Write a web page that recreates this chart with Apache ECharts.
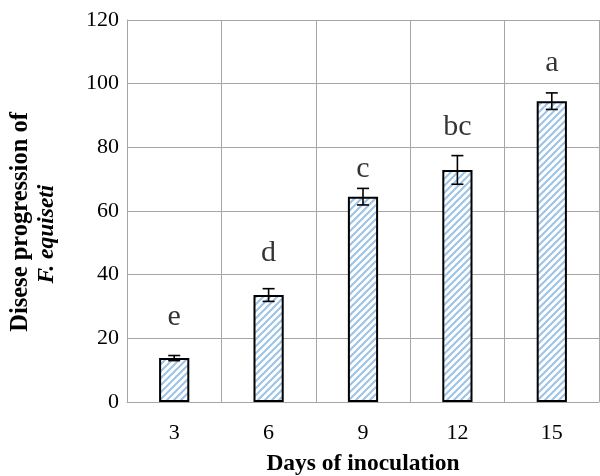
<!DOCTYPE html>
<html>
<head>
<meta charset="utf-8">
<script src="https://cdn.jsdelivr.net/npm/echarts@6/dist/echarts.min.js"></script>
<style>html,body{margin:0;padding:0;background:#fff}#c{width:600px;height:476px}</style>
</head>
<body>
<div id="c"></div>
<script>
var categories = ['3', '6', '9', '12', '15'];
var means = [13.8, 33.6, 64.5, 72.9, 94.5];
var errors = [0.8, 2.0, 2.6, 4.5, 2.6];
var letters = ['e', 'd', 'c', 'bc', 'a'];
var letterBaseline = [24.2, 44.3, 70.7, 83.9, 104.0];

var S = 7;
var pc = document.createElement('canvas');
pc.width = S; pc.height = S;
var g = pc.getContext('2d');
g.fillStyle = '#ffffff'; g.fillRect(0, 0, S, S);
g.strokeStyle = '#9DC3E6'; g.lineWidth = 2;
g.beginPath();
g.moveTo(-1, S + 1); g.lineTo(S + 1, -1);
g.moveTo(-1, 1); g.lineTo(1, -1);
g.moveTo(S - 1, S + 1); g.lineTo(S + 1, S - 1);
g.stroke();

var chart = echarts.init(document.getElementById('c'), null, {renderer: 'canvas'});
var serif = '"Liberation Serif", "Times New Roman", serif';
chart.setOption({
  animation: false,
  grid: {left: 127, right: 1, top: 20, bottom: 74, containLabel: false, outerBoundsMode: 'none'},
  xAxis: {
    type: 'category', data: categories,
    axisLine: {show: true, lineStyle: {color: '#A6A6A6', width: 1}},
    axisTick: {show: false},
    splitLine: {show: true, lineStyle: {color: '#A6A6A6', width: 1}},
    axisLabel: {fontFamily: serif, fontSize: 22, color: '#000', margin: 20},
    name: 'Days of inoculation', nameLocation: 'middle', nameGap: 50,
    nameTextStyle: {fontFamily: serif, fontSize: 23.5, fontWeight: 'bold', color: '#000'}
  },
  yAxis: {
    type: 'value', min: 0, max: 120, interval: 20,
    axisLine: {show: true, lineStyle: {color: '#A6A6A6', width: 1}},
    axisTick: {show: false},
    splitLine: {show: true, lineStyle: {color: '#A6A6A6', width: 1}},
    axisLabel: {fontFamily: serif, fontSize: 22, color: '#000', margin: 8},
    name: '{a|Disese progression of}\n{b|F. equiseti}',
    nameLocation: 'middle', nameRotate: 90, nameGap: 67,
    nameTextStyle: {
      rich: {
        a: {fontFamily: serif, fontSize: 24.5, fontWeight: 'bold', color: '#000', lineHeight: 26, padding: [0, 22, 0, 0]},
        b: {fontFamily: serif, fontSize: 23.5, fontWeight: 'bold', fontStyle: 'italic', color: '#000', lineHeight: 26, padding: [0, 46, 0, 0]}
      }
    }
  },
  series: [
    {
      type: 'bar', data: means, barWidth: '32%',
      itemStyle: {color: {image: pc, repeat: 'repeat'}, borderColor: '#000', borderWidth: 2}
    },
    {
      type: 'custom',
      data: means.map(function (m, i) { return [i, m - errors[i], m + errors[i]]; }),
      renderItem: function (params, api) {
        var lo = api.coord([api.value(0), api.value(1)]);
        var hi = api.coord([api.value(0), api.value(2)]);
        var hw = 6;
        var st = {stroke: '#000', lineWidth: 1.6};
        return {type: 'group', children: [
          {type: 'line', shape: {x1: lo[0], y1: lo[1], x2: hi[0], y2: hi[1]}, style: st},
          {type: 'line', shape: {x1: lo[0] - hw, y1: lo[1], x2: lo[0] + hw, y2: lo[1]}, style: st},
          {type: 'line', shape: {x1: hi[0] - hw, y1: hi[1], x2: hi[0] + hw, y2: hi[1]}, style: st}
        ]};
      },
      z: 5
    },
    {
      type: 'scatter', symbolSize: 0,
      data: letterBaseline.map(function (v, i) { return {value: [i, v], label: {formatter: letters[i]}}; }),
      label: {show: true, position: 'inside', verticalAlign: 'bottom', offset: [0, 7],
        fontFamily: serif, fontSize: 30, color: '#000', textBorderWidth: 0}
    }
  ]
});
</script>
</body>
</html>
